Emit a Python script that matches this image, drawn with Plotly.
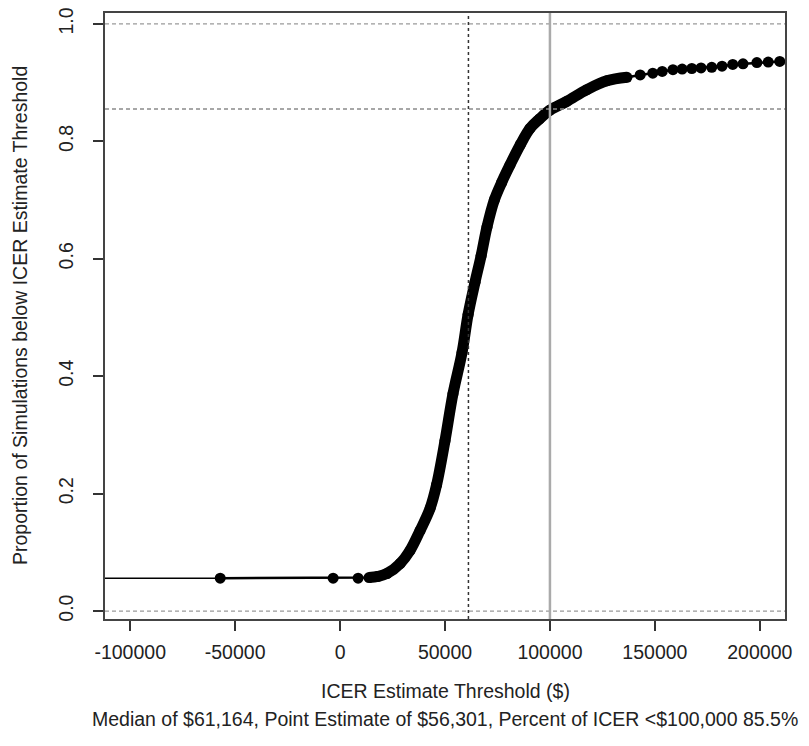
import plotly.graph_objects as go

# ---- data ----
icer_x = [-57100, -3300, 8600, 13800, 18000, 22400, 28600, 33300, 38100, 42900,
          46000, 50000, 53800, 58100, 61000, 64300, 67200, 70000, 73500, 77000,
          81000, 86000, 90500, 95000, 100000, 108000, 117600, 127100, 136700,
          143000, 149000, 153500, 158600, 163000, 167600, 172000, 177100, 182000,
          187100, 192000, 198600, 204000, 209500]
prop_y = [0.056, 0.056, 0.056, 0.057, 0.059, 0.064, 0.081, 0.103, 0.137, 0.175,
          0.215, 0.29, 0.37, 0.44, 0.505, 0.56, 0.605, 0.654, 0.70, 0.73,
          0.76, 0.795, 0.822, 0.838, 0.853, 0.868, 0.888, 0.903, 0.909,
          0.913, 0.916, 0.919, 0.922, 0.923, 0.924, 0.925, 0.926, 0.928,
          0.931, 0.932, 0.934, 0.935, 0.936]
dense_from, dense_to = 13800, 140000      # continuous band section
tail_x = [-150000, -57100]                # left tail (extends off-plot)
tail_y = [0.056, 0.056]
median_icer = 61164
wtp_threshold = 100000
pct_below = 0.855
bounds_y = [0.0, 1.0]
x_ticks = [-100000, -50000, 0, 50000, 100000, 150000, 200000]
y_ticks = [0.0, 0.2, 0.4, 0.6, 0.8, 1.0]
y_tick_text = ["0.0", "0.2", "0.4", "0.6", "0.8", "1.0"]

x_title = "ICER Estimate Threshold ($)"
subtitle = "Median of $61,164, Point Estimate of $56,301, Percent of ICER <$100,000 85.5%"
y_title = "Proportion of Simulations below ICER Estimate Threshold"

FONT = "Liberation Sans, Arial, sans-serif"
FS = 19.5
fig = go.Figure()

fig.add_trace(go.Scatter(x=tail_x, y=tail_y, mode="lines",
                         line=dict(color="black", width=1.5), showlegend=False))
dx = [x for x in icer_x if dense_from <= x <= dense_to]
dy = [y for x, y in zip(icer_x, prop_y) if dense_from <= x <= dense_to]
fig.add_trace(go.Scatter(x=dx, y=dy, mode="lines",
                         line=dict(color="black", width=11, shape="spline"),
                         showlegend=False))
fig.add_trace(go.Scatter(x=icer_x, y=prop_y, mode="lines+markers",
                         line=dict(color="black", width=2.5),
                         marker=dict(color="black", size=11),
                         showlegend=False))

# reference lines
for yv in bounds_y:
    fig.add_shape(type="line", xref="paper", x0=0, x1=1, yref="y", y0=yv, y1=yv,
                  line=dict(color="#9a9a9a", width=1.3, dash="4px,3px"))
fig.add_shape(type="line", xref="paper", x0=0, x1=1, yref="y", y0=pct_below, y1=pct_below,
              line=dict(color="#8a8a8a", width=1.3, dash="4px,3px"))
fig.add_shape(type="line", xref="x", x0=median_icer, x1=median_icer, yref="paper", y0=0, y1=1,
              line=dict(color="#333333", width=1.5, dash="3px,3px"))
fig.add_shape(type="line", xref="x", x0=wtp_threshold, x1=wtp_threshold, yref="paper", y0=0, y1=1,
              line=dict(color="#aaaaaa", width=2.5))

fig.update_xaxes(range=[-112000, 212000], tickvals=x_ticks,
                 ticktext=[str(v) for v in x_ticks],
                 ticks="outside", ticklen=10, tickwidth=1.5, tickcolor="#333",
                 showline=True, linecolor="#444", linewidth=2, mirror=True,
                 showgrid=False, zeroline=False, ticklabelstandoff=5,
                 tickfont=dict(family=FONT, size=FS, color="#222"))
fig.update_yaxes(range=[-0.0135, 1.0185], tickvals=y_ticks, ticktext=y_tick_text,
                 tickangle=-90,
                 ticks="outside", ticklen=10, tickwidth=1.5, tickcolor="#333",
                 showline=True, linecolor="#444", linewidth=2, mirror=True,
                 showgrid=False, zeroline=False, ticklabelstandoff=12,
                 tickfont=dict(family=FONT, size=FS, color="#222"))

fig.add_annotation(text=x_title, xref="paper", yref="paper", x=0.5, y=0,
                   yanchor="middle", yshift=-72, showarrow=False,
                   font=dict(family=FONT, size=FS, color="#222"))
fig.add_annotation(text=subtitle, xref="paper", yref="paper", x=0.5, y=0,
                   yanchor="middle", yshift=-100, showarrow=False,
                   font=dict(family=FONT, size=FS, color="#222"))
fig.add_annotation(text=y_title, xref="paper", yref="paper", x=0, y=0.5,
                   xanchor="center", xshift=-85, textangle=-90, showarrow=False,
                   font=dict(family=FONT, size=FS, color="#222"))

fig.update_layout(width=809, height=746, plot_bgcolor="white", paper_bgcolor="white",
                  margin=dict(l=105, r=24, t=7, b=127), showlegend=False)
fig.write_html("out.html")
